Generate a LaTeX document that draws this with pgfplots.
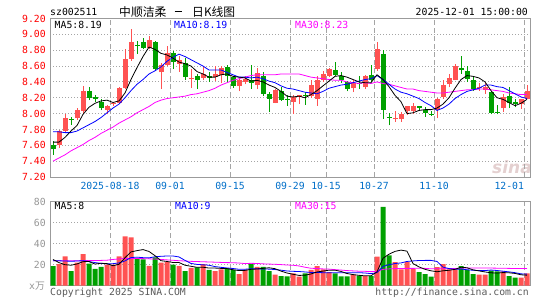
\documentclass[border=0pt]{standalone}
\usepackage{fontspec}
\setmainfont{DejaVu Sans Mono}
\newfontfamily\cjk{Noto Sans CJK SC}
\newfontfamily\wmf{DejaVu Sans}
\usepackage{pgfplots}
\pgfplotsset{compat=1.18}
\usepackage{pgfplotstable}
\definecolor{kred}{RGB}{255,82,82}
\definecolor{kgreen}{RGB}{0,160,0}
\definecolor{dblue}{RGB}{0,110,200}
\definecolor{gridc}{RGB}{165,165,165}
\definecolor{framec}{RGB}{155,155,155}
\definecolor{ma10c}{RGB}{0,0,255}
\definecolor{ma30c}{RGB}{255,0,255}
\definecolor{vtick}{RGB}{150,150,150}
\definecolor{copyc}{RGB}{90,90,90}

\pgfplotstableread{
i o h l c v m5 m10 m30 vm5 vm10 vm30
0 7.60 7.65 7.48 7.55 18.7 7.64 7.77 7.40 25.0 23.8 23.8
1 7.60 7.79 7.57 7.78 20.6 7.64 7.77 7.44 22.0 23.7 23.8
2 7.78 7.99 7.77 7.94 28 7.70 7.76 7.48 20.0 23.5 23.8
3 7.93 7.96 7.86 7.92 14 7.78 7.76 7.53 19.5 23.3 23.8
4 7.94 8.07 7.92 8.05 22 7.85 7.78 7.57 20.7 23.5 23.8
5 8.03 8.35 8.01 8.28 30 7.99 7.82 7.61 22.9 23.8 23.9
6 8.29 8.33 8.17 8.20 21 8.08 7.86 7.66 23.0 23.0 24.0
7 8.21 8.24 8.15 8.19 16 8.13 7.90 7.70 20.6 22.0 24.0
8 8.15 8.18 8.04 8.07 18 8.16 7.95 7.75 21.4 21.3 24.1
9 8.05 8.11 7.99 8.10 20 8.17 8.01 7.79 21.0 20.8 24.3
10 8.12 8.15 8.10 8.14 20 8.14 8.07 7.83 19.0 21.0 25.0
11 8.14 8.33 8.12 8.32 28 8.16 8.12 7.88 20.4 21.7 25.5
12 8.32 8.81 8.31 8.69 47 8.26 8.20 7.92 26.6 23.6 26.0
13 8.69 9.07 8.67 8.90 46 8.43 8.29 7.96 32.2 26.8 26.0
14 8.86 8.92 8.75 8.85 26 8.58 8.37 8.01 33.4 27.2 26.0
15 8.90 8.96 8.81 8.83 25 8.72 8.43 8.05 34.4 26.7 25.8
16 8.83 8.98 8.81 8.93 19 8.84 8.50 8.09 32.6 26.5 25.6
17 8.90 8.92 8.55 8.56 27 8.81 8.54 8.14 28.6 27.6 25.4
18 8.52 8.64 8.31 8.61 22 8.76 8.59 8.17 23.8 28.0 25.0
19 8.61 8.85 8.60 8.76 22.5 8.74 8.66 8.19 23.1 28.3 24.6
20 8.77 8.79 8.56 8.65 20 8.70 8.71 8.20 22.1 28.3 24.2
21 8.63 8.73 8.53 8.68 19 8.65 8.75 8.21 22.1 27.4 23.8
22 8.64 8.70 8.43 8.46 14 8.63 8.72 8.22 19.5 24.1 23.5
23 8.44 8.56 8.32 8.45 17 8.60 8.68 8.24 18.5 21.2 23.2
24 8.48 8.50 8.31 8.42 17.5 8.53 8.64 8.25 17.5 20.3 23.0
25 8.45 8.60 8.42 8.50 20.6 8.50 8.60 8.27 17.6 19.9 22.8
26 8.48 8.52 8.40 8.45 15 8.46 8.55 8.29 16.8 19.5 22.6
27 8.46 8.60 8.41 8.50 14 8.46 8.55 8.32 16.8 18.2 22.4
28 8.49 8.60 8.38 8.58 15.5 8.49 8.55 8.36 16.5 17.5 22.2
29 8.59 8.61 8.40 8.47 16.5 8.50 8.52 8.39 16.3 16.9 22.0
30 8.46 8.48 8.32 8.35 15 8.47 8.49 8.42 15.2 16.4 21.9
31 8.35 8.44 8.28 8.42 11 8.46 8.46 8.44 14.4 15.6 21.6
32 8.40 8.47 8.37 8.44 15 8.45 8.46 8.46 14.6 15.7 21.1
33 8.43 8.61 8.31 8.39 20.6 8.41 8.45 8.48 15.6 16.1 21.3
34 8.36 8.57 8.31 8.51 18 8.42 8.46 8.49 15.9 16.1 21.2
35 8.47 8.52 8.22 8.25 18 8.40 8.44 8.49 16.5 15.9 20.8
36 8.25 8.27 8.02 8.19 14 8.36 8.41 8.49 17.1 15.8 20.6
37 8.14 8.31 8.13 8.30 10.5 8.33 8.39 8.49 16.2 15.4 20.4
38 8.28 8.33 8.16 8.17 9.2 8.28 8.35 8.50 13.9 14.8 20.1
39 8.19 8.23 8.10 8.18 9 8.22 8.32 8.50 12.1 14.0 19.7
40 8.15 8.23 8.00 8.21 11.7 8.21 8.31 8.50 10.9 13.7 19.5
41 8.21 8.24 8.12 8.23 8.6 8.22 8.29 8.50 9.8 13.5 18.8
42 8.24 8.27 8.11 8.22 11.7 8.20 8.27 8.48 10.0 13.1 17.6
43 8.22 8.42 8.20 8.36 15 8.24 8.26 8.46 11.2 12.6 16.6
44 8.19 8.48 8.10 8.43 18.7 8.29 8.25 8.45 13.1 12.6 16.4
45 8.42 8.54 8.40 8.50 15.5 8.35 8.28 8.44 13.9 12.4 16.0
46 8.48 8.58 8.46 8.56 13 8.41 8.32 8.43 14.8 12.3 15.8
47 8.55 8.65 8.47 8.49 11.7 8.47 8.34 8.42 14.8 12.4 15.3
48 8.48 8.53 8.39 8.42 9 8.48 8.36 8.42 13.6 12.4 14.9
49 8.40 8.41 8.28 8.31 9 8.46 8.37 8.40 11.6 12.4 14.4
50 8.32 8.42 8.27 8.39 10.5 8.43 8.39 8.39 10.6 12.3 14.1
51 8.39 8.48 8.31 8.37 9.5 8.40 8.41 8.38 9.9 12.4 13.8
52 8.33 8.49 8.31 8.48 9.2 8.39 8.43 8.39 9.4 12.1 13.7
53 8.49 8.61 8.40 8.42 9.2 8.39 8.44 8.38 9.5 11.5 13.4
54 8.56 8.90 8.54 8.81 27.6 8.49 8.48 8.40 13.2 12.4 13.7
55 8.75 8.80 7.93 8.05 75 8.43 8.43 8.38 26.1 18.4 15.5
56 7.96 8.01 7.85 7.95 29 8.34 8.37 8.37 30.0 20.0 16.0
57 7.93 8.03 7.90 7.94 22.5 8.23 8.31 8.35 32.7 21.1 16.3
58 7.93 8.02 7.90 7.99 15.5 8.15 8.27 8.33 33.9 21.7 16.3
59 8.03 8.10 7.98 8.09 22.5 8.00 8.25 8.31 32.9 23.1 16.5
60 8.03 8.14 8.00 8.10 16 8.01 8.22 8.31 21.1 23.6 16.5
61 8.09 8.10 8.03 8.07 13 8.04 8.19 8.29 17.9 24.0 16.6
62 8.04 8.08 7.96 8.01 11 8.05 8.14 8.28 15.6 24.1 16.5
63 8.00 8.03 7.97 7.99 8.6 8.05 8.10 8.27 14.2 24.1 16.1
64 8.04 8.20 7.94 8.19 17.8 8.07 8.04 8.26 13.3 23.1 16.1
65 8.21 8.42 8.19 8.36 20.6 8.12 8.07 8.26 14.2 17.7 16.1
66 8.37 8.50 8.33 8.45 15.5 8.20 8.12 8.27 14.7 16.3 16.2
67 8.43 8.62 8.42 8.60 15.5 8.32 8.19 8.28 15.6 15.6 16.4
68 8.57 8.73 8.50 8.55 18.7 8.43 8.24 8.29 17.6 15.9 16.7
69 8.54 8.60 8.40 8.44 15 8.48 8.28 8.30 17.1 15.2 16.9
70 8.43 8.48 8.29 8.31 11 8.47 8.30 8.30 15.1 14.7 16.8
71 8.32 8.39 8.29 8.34 10.5 8.45 8.32 8.31 14.1 14.4 16.9
72 8.30 8.39 8.25 8.34 10.5 8.40 8.36 8.31 13.1 14.4 16.9
73 8.27 8.29 7.99 8.01 14.3 8.29 8.36 8.30 12.3 14.9 16.8
74 8.02 8.11 7.99 8.01 13.7 8.20 8.34 8.29 12.0 14.5 16.7
75 8.07 8.25 8.02 8.21 13.7 8.18 8.33 8.28 12.5 13.8 16.6
76 8.22 8.33 8.07 8.13 9.2 8.14 8.29 8.26 12.3 13.2 16.5
77 8.15 8.19 8.08 8.12 7.6 8.10 8.25 8.25 11.7 12.4 16.4
78 8.12 8.18 8.06 8.18 7.6 8.13 8.21 8.24 10.4 11.3 16.3
79 8.19 8.36 8.18 8.28 11.7 8.18 8.19 8.24 10.0 11.0 16.4
}\K

\pgfplotsset{
  kbase/.style={
    scale only axis, width=480pt, xmin=-0.5, xmax=79.5,
    axis line style={framec, line width=0.8pt},
    major tick length=0pt,
    xtick={9.5,19.5,29.5,39.5,45.5,53.5,63.5,78.5},
    xmajorgrids, ymajorgrids,
    x grid style={gridc, line width=0.8pt, dash pattern=on 5pt off 3pt},
    y grid style={gridc, line width=0.8pt, dash pattern=on 1pt off 2pt},
    /pgf/number format/assume math mode=true,
    tick label style={font=\fontsize{9.8}{11}\selectfont},
    yticklabel style={anchor=east, inner sep=0pt, xshift=-4pt},
    clip=true,
  },
  wick/.style={draw=none, mark=none,
    error bars/.cd, y dir=plus, y explicit, error mark=none,
    error bar style={line width=1pt, #1}},
  body/.style={draw=none, mark=none,
    error bars/.cd, y dir=plus, y explicit, error mark=none,
    error bar style={line width=5pt, #1}},
  upc/.style={restrict expr to domain={\thisrow{c}-\thisrow{o}}{0:5}},
  dnc/.style={restrict expr to domain={\thisrow{c}-\thisrow{o}}{-5:-0.00001}},
}

\begin{document}
\fontsize{9.8}{11}\selectfont
\begin{tikzpicture}[x=1pt,y=1pt]
\path[use as bounding box] (0,0) rectangle (545,300);

% watermark
\node[text={rgb,255:red,228;green,208;blue,208}, inner sep=0pt, font=\wmf\bfseries\itshape\fontsize{17}{17}\selectfont] at (512,133) {sina};

% ---------- price panel ----------
\begin{axis}[kbase, at={(50pt,123pt)}, anchor=south west, height=158.5pt,
  ymin=7.2, ymax=9.2,
  ytick={7.2,7.4,7.6,7.8,8.0,8.2,8.4,8.6,8.8,9.0,9.2},
  yticklabels={7.20,7.40,7.60,7.80,8.00,8.20,8.40,8.60,8.80,9.00,9.20},
  yticklabel style={text=red},
  xticklabels={2025-08-18,09-01,09-15,09-29,10-15,10-27,11-10,\makebox[0pt][r]{12-01}},
  xticklabel style={text=dblue, anchor=north, inner sep=0pt, yshift=-5pt},
]
\addplot[upc, wick=kred] table[x=i, y=l, y error expr=\thisrow{h}-\thisrow{l}] {\K};
\addplot[dnc, wick=kgreen] table[x=i, y=l, y error expr=\thisrow{h}-\thisrow{l}] {\K};
\addplot[upc, body=kred] table[x=i, y=o, y error expr=\thisrow{c}-\thisrow{o}] {\K};
\addplot[dnc, body=kgreen] table[x=i, y=c, y error expr=\thisrow{o}-\thisrow{c}] {\K};
\addplot[ma30c, line width=0.8pt, mark=none] table[x=i, y=m30] {\K};
\addplot[ma10c, line width=0.8pt, mark=none] table[x=i, y=m10] {\K};
\addplot[black, line width=0.8pt, mark=none] table[x=i, y=m5] {\K};
\end{axis}

% ---------- volume panel ----------
\begin{axis}[kbase, at={(50pt,14.3pt)}, anchor=south west, height=84pt,
  ymin=0, ymax=80,
  ytick={20,40,60,80}, yticklabels={20,40,60,80},
  yticklabel style={text=vtick},
  xticklabels={},
]
\addplot[ybar, bar width=5pt, bar shift=0pt, fill=kred, draw=none, upc] table[x=i, y=v] {\K};
\addplot[ybar, bar width=5pt, bar shift=0pt, fill=kgreen, draw=none, dnc] table[x=i, y=v] {\K};
\addplot[ma30c, line width=0.8pt, mark=none] table[x=i, y=vm30] {\K};
\addplot[ma10c, line width=0.8pt, mark=none] table[x=i, y=vm10] {\K};
\addplot[black, line width=0.8pt, mark=none] table[x=i, y=vm5] {\K};
\end{axis}

% ---------- texts ----------
\node[anchor=west, inner sep=0pt] at (50,288) {sz002511};
\node[anchor=west, inner sep=0pt] at (119,288) {\cjk\fontsize{11.8}{12}\selectfont 中顺洁柔};
\draw[black, line width=1pt] (174.5,288) -- (181.5,288);
\node[anchor=west, inner sep=0pt] at (192,288) {\cjk\fontsize{11.8}{12}\selectfont 日K线图};
\node[anchor=east, inner sep=0pt] at (528,288) {2025-12-01 15:00:00};

\node[anchor=west, inner sep=0pt] at (54.5,275.5) {MA5:8.19};
\node[anchor=west, inner sep=0pt, text=ma10c] at (174,275.5) {MA10:8.19};
\node[anchor=west, inner sep=0pt, text=ma30c] at (295,275.5) {MA30:8.23};

\node[anchor=west, inner sep=0pt] at (54.5,94) {MA5:8};
\node[anchor=west, inner sep=0pt, text=ma10c] at (175,94) {MA10:9};
\node[anchor=west, inner sep=0pt, text=ma30c] at (295,94) {MA30:15};

\node[anchor=east, inner sep=0pt, text=vtick] at (45,14.3) {x{\cjk 万}};
\node[anchor=west, inner sep=0pt, text=copyc] at (50,7.5) {Copyright 2025 SINA.COM};
\node[anchor=east, inner sep=0pt, text=copyc] at (529,7.5) {http://finance.sina.com.cn};
\end{tikzpicture}
\end{document}
